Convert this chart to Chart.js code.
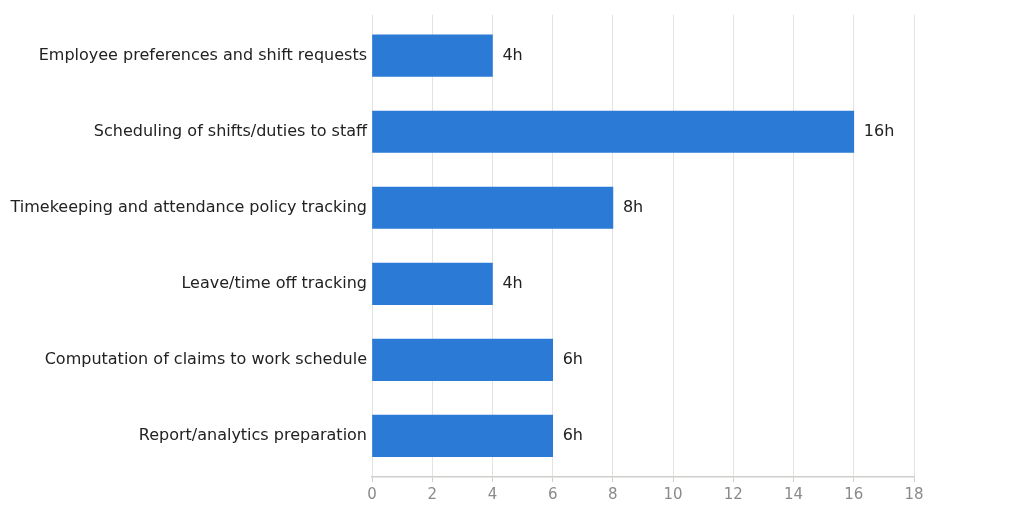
<!DOCTYPE html>
<html>
<head>
<meta charset="utf-8">
<script src="https://cdn.jsdelivr.net/npm/chart.js@4"></script>
<style>
  html, body { margin: 0; padding: 0; background: #fff; }
  #wrap { width: 1024px; height: 507px; }
</style>
</head>
<body>
<div id="wrap"><canvas id="horasChart" width="1024" height="507"></canvas></div>
<script>
/* ─────────────── datos ─────────────── */
const categorias = [
  "Employee preferences and shift requests",
  "Scheduling of shifts/duties to staff",
  "Timekeeping and attendance policy tracking",
  "Leave/time off tracking",
  "Computation of claims to work schedule",
  "Report/analytics preparation"
];
const horas = [4, 16, 8, 4, 6, 6];
const ejeX = [0, 2, 4, 6, 8, 10, 12, 14, 16, 18];

const FUENTE = "'DejaVu Sans', sans-serif";
Chart.defaults.font.family = FUENTE;

/* ─────────────── etiquetas "Nh" ─────────────── */
const etiquetasBarras = {
  id: "etiquetasBarras",
  afterDatasetsDraw(chart) {
    const ctx = chart.ctx;
    const meta = chart.getDatasetMeta(0);
    ctx.save();
    ctx.font = "16px " + FUENTE;
    ctx.fillStyle = "#222";
    ctx.textAlign = "left";
    ctx.textBaseline = "middle";
    meta.data.forEach((bar, i) => {
      ctx.fillText(horas[i] + "h", bar.x + 10, bar.y);
    });
    ctx.restore();
  }
};

const puntos = horas.map((h, i) => ({ x: h, y: i }));

new Chart(document.getElementById("horasChart"), {
  type: "bar",
  data: {
    datasets: [{
      data: puntos,
      backgroundColor: "#2b7ad6",
      borderWidth: 0,
      barThickness: 41.5
    }]
  },
  options: {
    indexAxis: "y",
    responsive: false,
    animation: false,
    devicePixelRatio: 1,
    layout: { padding: { top: 13, right: 110, bottom: 0, left: 0 } },
    plugins: {
      legend: { display: false },
      tooltip: { enabled: false }
    },
    scales: {
      x: {
        type: "linear",
        min: ejeX[0],
        max: ejeX[ejeX.length - 1],
        afterBuildTicks: s => { s.ticks = ejeX.map(v => ({ value: v })); },
        afterFit: s => { s.height = 30; },
        ticks: {
          color: "#8a8a8a",
          font: { size: 15 },
          padding: 4
        },
        grid: {
          color: "#e3e3e0",
          tickColor: "#cfcfcc",
          tickLength: 5,
          lineWidth: 1
        },
        border: { color: "#cfcfcc", width: 1.5 }
      },
      y: {
        type: "linear",
        reverse: true,
        offset: false,
        grace: 0,
        min: -0.54,
        max: categorias.length - 1 + 0.54,
        afterBuildTicks: s => { s.ticks = categorias.map((c, i) => ({ value: i })); },
        afterFit: s => { s.width = 372; },
        ticks: {
          color: "#222",
          font: { size: 16 },
          padding: 5,
          callback: v => categorias[v]
        },
        grid: { display: false, drawTicks: false },
        border: { display: false }
      }
    }
  },
  plugins: [etiquetasBarras]
});
</script>
</body>
</html>
